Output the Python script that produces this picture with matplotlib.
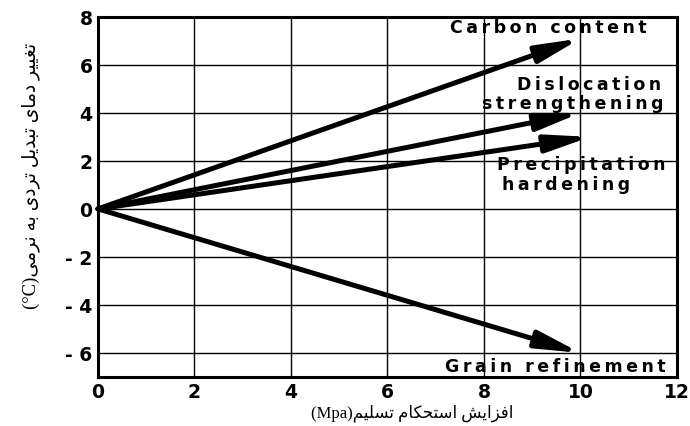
import matplotlib
matplotlib.use("Agg")
import matplotlib.pyplot as plt

# ---- data ----
mechanisms = ["Carbon content", "Dislocation strengthening", "Precipitation hardening", "Grain refinement"]
end_x = [10.0, 10.0, 10.2, 10.0]
end_y = [7.1, 4.0, 3.0, -6.0]
x_ticks = [0, 2, 4, 6, 8, 10, 12]
y_ticks = [-6, -4, -2, 0, 2, 4, 6, 8]
y_tick_labels = ["- 6", "- 4", "- 2", "0", "2", "4", "6", "8"]
x_label_fa = "افزایش استحکام تسلیم"
x_label_unit = "(Mpa)"
y_label_fa = "تغییر دمای تبدیل تردی به نرمی"
y_label_unit = "(°C)"

# ---- minimal Persian shaping (presentation forms) ----
FORMS = {
    'ا': ('\uFE8D', '\uFE8E', None, None),
    'ب': ('\uFE8F', '\uFE90', '\uFE91', '\uFE92'),
    'ت': ('\uFE95', '\uFE96', '\uFE97', '\uFE98'),
    'ح': ('\uFEA1', '\uFEA2', '\uFEA3', '\uFEA4'),
    'د': ('\uFEA9', '\uFEAA', None, None),
    'ر': ('\uFEAD', '\uFEAE', None, None),
    'ز': ('\uFEAF', '\uFEB0', None, None),
    'س': ('\uFEB1', '\uFEB2', '\uFEB3', '\uFEB4'),
    'ش': ('\uFEB5', '\uFEB6', '\uFEB7', '\uFEB8'),
    'غ': ('\uFECD', '\uFECE', '\uFECF', '\uFED0'),
    'ف': ('\uFED1', '\uFED2', '\uFED3', '\uFED4'),
    'ک': ('\uFED9', '\uFEDA', '\uFEDB', '\uFEDC'),
    'ل': ('\uFEDD', '\uFEDE', '\uFEDF', '\uFEE0'),
    'م': ('\uFEE1', '\uFEE2', '\uFEE3', '\uFEE4'),
    'ن': ('\uFEE5', '\uFEE6', '\uFEE7', '\uFEE8'),
    'ه': ('\uFEE9', '\uFEEA', '\uFEEB', '\uFEEC'),
    'ی': ('\uFEEF', '\uFEF0', '\uFEF3', '\uFEF4'),
}


def dual(c):
    return c in FORMS and FORMS[c][2] is not None


def shape(text):
    out = []
    n = len(text)
    for i, c in enumerate(text):
        if c not in FORMS:
            out.append(c)
            continue
        prev_join = i > 0 and dual(text[i - 1])
        next_join = dual(c) and i + 1 < n and text[i + 1] in FORMS
        iso, fin, ini, med = FORMS[c]
        if prev_join and next_join:
            out.append(med)
        elif prev_join:
            out.append(fin)
        elif next_join:
            out.append(ini)
        else:
            out.append(iso)
    return ''.join(out)[::-1]


def spaced(s):
    return '\u2009'.join(s)


fig = plt.figure(figsize=(6.9, 4.27), dpi=100)
ax = fig.add_axes([0.142, 0.115, 0.839, 0.843])
ax.set_xlim(0, 12)
ax.set_ylim(-7, 8)
ax.set_xticks(x_ticks)
ax.set_yticks(y_ticks)
ax.set_xticklabels([str(v) for v in x_ticks])
ax.set_yticklabels(y_tick_labels)
ax.grid(True, color='black', linewidth=1.0)
ax.set_axisbelow(True)
for s in ax.spines.values():
    s.set_linewidth(2.2)
ax.tick_params(length=0, pad=4, labelsize=13.5)
for lab in ax.get_xticklabels() + ax.get_yticklabels():
    lab.set_fontweight('bold')

for x1, y1 in zip(end_x, end_y):
    ax.annotate('', xy=(x1, y1), xytext=(0, 0),
                arrowprops=dict(arrowstyle='-|>,head_length=1.3,head_width=0.26',
                                lw=3.6, color='black', mutation_scale=20,
                                shrinkA=0, shrinkB=0))

tk = dict(fontsize=12.5, fontweight='bold', color='black', va='center', ha='left')
ax.text(7.3, 7.58, spaced("Carbon content"), **tk)
ax.text(8.68, 5.21, spaced("Dislocation"), **tk)
ax.text(7.96, 4.42, spaced("strengthening"), **tk)
ax.text(8.27, 1.875, spaced("Precipitation"), **tk)
ax.text(8.37, 1.04, spaced("hardening"), **tk)
ax.text(7.19, -6.54, spaced("Grain refinement"), **tk)

fam = ['Liberation Serif', 'DejaVu Sans']
xl = ax.set_xlabel(x_label_unit + shape(x_label_fa), family=fam, fontsize=12)
xl.set_va('center')
ax.xaxis.set_label_coords(0.542, -0.098)
yl = ax.set_ylabel(y_label_unit + shape(y_label_fa), family=fam, fontsize=13.5)
yl.set_va('center')
ax.yaxis.set_label_coords(-0.117, 0.56)

fig.savefig('out.png', dpi=100)
